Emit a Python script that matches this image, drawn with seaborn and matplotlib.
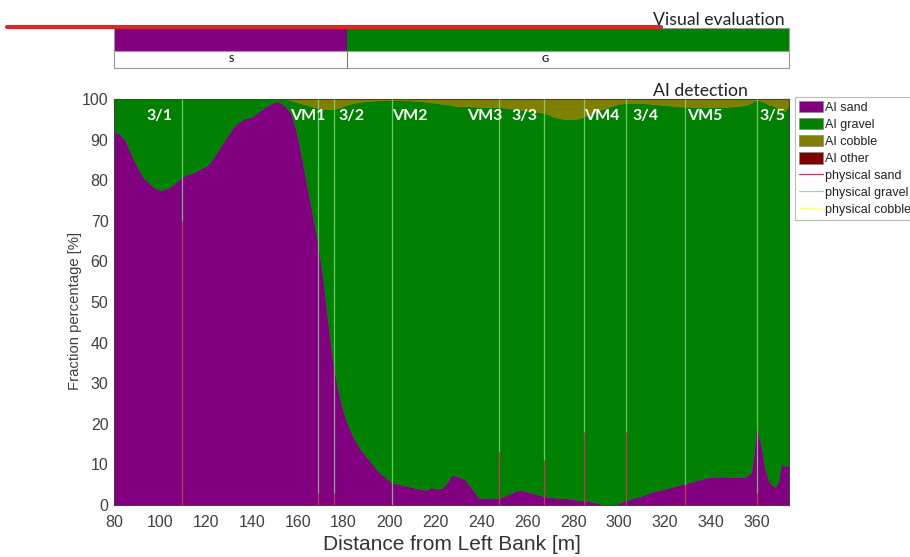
import matplotlib
matplotlib.use("Agg")
import numpy as np
import pandas as pd
import matplotlib.pyplot as plt
import seaborn as sns
from matplotlib.patches import Patch
from matplotlib.lines import Line2D

# ---------------- data ----------------
dist = [80, 82, 84.8, 87, 90.4, 93, 95, 97.5, 100, 102, 104.3, 107, 109.6, 112, 115,
        117.5, 119.6, 122, 124, 126.5, 129, 131.5, 134, 137, 140, 142, 144, 146.5,
        148.7, 150.5, 153, 155, 157, 159, 161, 163, 165, 167, 169, 171,
        173, 175, 177, 179, 181, 184, 187, 190.5, 195.6, 201, 205, 209.6, 213, 216,
        218, 220, 223, 225, 227, 230, 233, 236, 239, 244, 248, 252, 256.5, 260, 265,
        268, 272, 277, 282.6, 286, 290, 294, 298, 300, 305, 310, 314, 320, 326, 332,
        339, 345, 350, 355, 357.5, 358.8, 359.6, 360.5, 362, 363.5, 365, 366.5, 368,
        369.5, 370.5, 372, 374]

ai_sand = [92, 91.5, 90, 87, 83, 80.5, 79.5, 78.2, 77.6, 77.8, 78.3, 79.5, 80.8, 81.5, 82,
           82.8, 83.3, 84.5, 86.2, 88.5, 90.6, 92.8, 94.3, 95.2, 95.6, 96.5, 97.3, 98.3,
           99, 99.4, 99, 98, 96.5, 93, 88, 82, 76, 70, 64, 56,
           46, 37, 30, 25, 21, 17, 14, 11.5, 8, 5.5, 5, 4.4, 4, 3.7,
           4.4, 4, 4.2, 5.5, 7.4, 7, 6.2, 4, 1.7, 1.8, 1.7, 2.8, 3.7, 3.3, 2.5,
           2, 1.8, 1.7, 1.2, 1, 0.6, 0, 0, 0.5, 1.5, 2.3, 3.2, 4, 4.9, 5.8,
           6.9, 7, 6.8, 6.9, 8, 13, 19.5, 18, 14.3, 9, 6.2, 5, 4.4,
           6, 10.3, 9.5, 10]

ai_cobble = [0, 0, 0, 0, 0, 0, 0, 0, 0, 0, 0, 0, 0, 0, 0,
             0, 0, 0, 0, 0, 0, 0, 0, 0, 0, 0, 0, 0,
             0, 0, 0, 0, 0.3, 0.6, 1, 1.3, 1.6, 2, 2.2, 2.4,
             2.5, 2.5, 2.3, 2, 1.5, 1, 0.7, 0.5, 0.3, 0.3, 0.3, 0.4, 0.5, 0.7,
             0.8, 1, 1.2, 1.3, 1.5, 1.8, 1.8, 1.8, 2, 2, 2, 2.3, 2.5, 3, 3.2,
             3.5, 4.5, 5, 4.8, 4, 3, 2.2, 1.5, 1.2, 1, 1, 1.2, 1.5, 1.8, 2,
             2, 2, 1.8, 1.5, 1, 0.5, 0.3, 0.3, 0.5, 0.8, 1.5, 1.5, 2,
             2.5, 2.5, 3, 1.5]

# field sampling stations
stations = ["3/1", "VM1", "3/2", "VM2", "VM3", "3/3", "VM4", "3/4", "VM5", "3/5"]
station_x = [109.6, 168.7, 176.0, 200.9, 247.8, 267.4, 284.8, 303.0, 328.7, 360.0]
label_x = [100, 164.3, 183.5, 208.7, 241.3, 258.7, 292.6, 311.7, 337.4, 366.9]
phys_sand = [70, 3, 3, 0, 13, 11, 18, 18, 5, 3]
phys_gravel = [30, 97, 97, 100, 87, 89, 82, 82, 95, 97]
phys_cobble = [0, 0, 0, 0, 0, 0, 0, 0, 0, 0]

# visual evaluation classes along the transect
vis_edges = [80, 181.5, 374]
vis_class = ["S", "G"]
vis_label_x = [131, 268]

x_ticks = list(range(80, 361, 20))
y_ticks = list(range(0, 101, 10))

# ---------------- style ----------------
sns.set_theme(style="white")
plt.rcParams["font.family"] = ["Liberation Sans", "DejaVu Sans"]

C_SAND = "#800080"
C_GRAVEL = "#008000"
C_COBBLE = "#808000"
C_OTHER = "#800000"
C_PSAND = "#c03a5a"
C_PGRAVEL = "#8fe08f"
C_PCOBBLE = "#ffff90"
class_colors = {"S": C_SAND, "G": C_GRAVEL}

W, H = 910, 557
fig = plt.figure(figsize=(W / 100, H / 100), dpi=100)


def fig_rect(x0, y0, x1, y1):
    return [x0 / W, 1 - y1 / H, (x1 - x0) / W, (y1 - y0) / H]


# ---------------- main stacked area ----------------
df = pd.DataFrame({"dist": dist, "sand": ai_sand, "cobble": ai_cobble})
df["gravel"] = 100 - df["sand"] - df["cobble"]
df["other"] = 0.0

ax = fig.add_axes(fig_rect(114, 99, 789, 505))
base = np.zeros(len(df))
for col, c in [("sand", C_SAND), ("gravel", C_GRAVEL), ("cobble", C_COBBLE), ("other", C_OTHER)]:
    top = base + df[col].to_numpy()
    ax.fill_between(df["dist"], base, top, facecolor=c, edgecolor=c, linewidth=0.4)
    base = top

sx = np.array(station_x)
ps = np.array(phys_sand, dtype=float)
pg = np.array(phys_gravel, dtype=float)
pc = np.array(phys_cobble, dtype=float)
ax.vlines(sx, 0, ps, color=C_PSAND, lw=0.9, zorder=3)
ax.vlines(sx, ps, ps + pg, color=C_PGRAVEL, lw=0.9, alpha=0.75, zorder=3)
ax.vlines(sx, ps + pg, ps + pg + pc, color=C_PCOBBLE, lw=0.9, zorder=3)

for name, lx in zip(stations, label_x):
    ax.text(lx, 95.8, name, color="white", fontweight="bold", fontsize=11.5,
            ha="center", va="center", family=["Lato", "DejaVu Sans"], zorder=4)

ax.set_xlim(80, 374)
ax.set_ylim(0, 100)
ax.set_xticks(x_ticks)
ax.set_yticks(y_ticks)
ax.tick_params(direction="in", top=True, right=True, length=7, width=0.8,
               color="#1a1a1a", labelsize=11.5, labelcolor="#404040")
ax.tick_params(axis="x", pad=7)
ax.tick_params(axis="y", pad=4)
for s in ax.spines.values():
    s.set_color("#444444")
    s.set_linewidth(0.8)
ax.set_xlabel("Distance from Left Bank [m]", fontsize=15, color="#333333", labelpad=4)
ax.set_ylabel("Fraction percentage [%]", fontsize=10.7, color="#404040")
ax.yaxis.set_label_coords(-0.047, 0.478)

# ---------------- visual evaluation bar ----------------
bar_ax = fig.add_axes(fig_rect(114, 28, 789, 51))
lab_ax = fig.add_axes(fig_rect(114, 51, 789, 68))
for i, cls in enumerate(vis_class):
    bar_ax.axvspan(vis_edges[i], vis_edges[i + 1], color=class_colors[cls], lw=0)
    lab_ax.text(vis_label_x[i], 0.5, cls, ha="center", va="center", fontsize=7,
                fontweight="bold", color="#222222", family=["Lato", "DejaVu Sans"])
for edge in vis_edges[1:-1]:
    lab_ax.axvline(edge, color="#777777", lw=0.8)
for a in (bar_ax, lab_ax):
    a.set_xlim(80, 374)
    a.set_ylim(0, 1)
    for s in a.spines.values():
        s.set_color("#999999")
        s.set_linewidth(0.8)
bar_ax.set_xticks(x_ticks)
bar_ax.set_yticks([])
bar_ax.tick_params(direction="in", top=True, bottom=True, length=4, width=0.7,
                   color="#1a1a1a", labelbottom=False)
lab_ax.set_xticks([])
lab_ax.set_yticks([])

fig.text(653 / W, 1 - 25 / H, "Visual evaluation", fontsize=12.7, color="#222222",
         family=["Lato", "DejaVu Sans"], ha="left", va="baseline")
fig.text(653 / W, 1 - 96 / H, "AI detection", fontsize=12.7, color="#222222",
         family=["Lato", "DejaVu Sans"], ha="left", va="baseline")

fig.add_artist(Line2D([7 / W, 661 / W], [1 - 27 / H, 1 - 27 / H], color="#d42a2a",
                      lw=3, transform=fig.transFigure, zorder=10))

# ---------------- legend ----------------
handles = [
    Patch(facecolor=C_SAND, edgecolor="#888888", lw=0.5, label="AI sand"),
    Patch(facecolor=C_GRAVEL, edgecolor="#888888", lw=0.5, label="AI gravel"),
    Patch(facecolor=C_COBBLE, edgecolor="#888888", lw=0.5, label="AI cobble"),
    Patch(facecolor=C_OTHER, edgecolor="#888888", lw=0.5, label="AI other"),
    Line2D([], [], color=C_PSAND, lw=0.9, label="physical sand"),
    Line2D([], [], color=C_PGRAVEL, lw=0.9, label="physical gravel"),
    Line2D([], [], color=C_PCOBBLE, lw=0.9, label="physical cobble"),
]
leg = fig.legend(handles=handles, loc="upper left", bbox_to_anchor=(795 / W, 1 - 97 / H),
                 frameon=True, fancybox=False, fontsize=9, handlelength=1.9,
                 handleheight=1.05, handletextpad=0.2, labelspacing=0.32,
                 borderpad=0.3, borderaxespad=0, edgecolor="#aaaaaa")
leg.get_frame().set_linewidth(0.8)
for t in leg.get_texts():
    t.set_color("#222222")

fig.savefig("out.png", dpi=100)
